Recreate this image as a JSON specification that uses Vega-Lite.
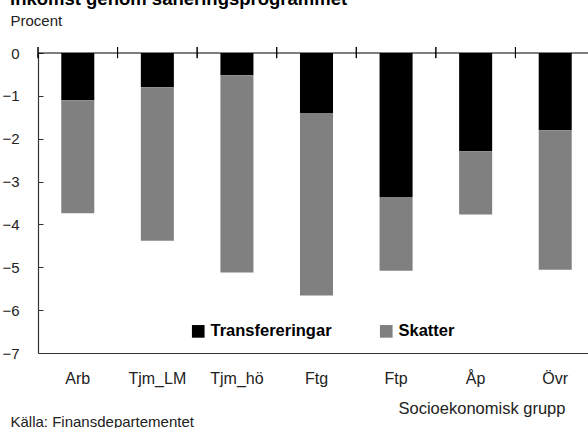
{
  "$schema": "https://vega.github.io/schema/vega-lite/v6.json",
  "width": 557,
  "height": 300,
  "autosize": {"type": "none"},
  "padding": {"left": 38, "top": 53, "right": 0, "bottom": 75},
  "background": "white",
  "config": {"font": "Liberation Sans", "view": {"stroke": null}},
  "title": {
    "text": "inkomst genom saneringsprogrammet",
    "orient": "top",
    "anchor": "start",
    "frame": "group",
    "fontSize": 18.5,
    "fontWeight": "bold",
    "color": "#000000",
    "baseline": "alphabetic",
    "offset": 5,
    "dx": -28,
    "dy": 15
  },
  "data": {
    "values": [
      {"cat": "Arb", "typ": "Transfereringar", "rank": 1, "value": -1.10},
      {"cat": "Arb", "typ": "Skatter", "rank": 2, "value": -2.64},
      {"cat": "Tjm_LM", "typ": "Transfereringar", "rank": 1, "value": -0.80},
      {"cat": "Tjm_LM", "typ": "Skatter", "rank": 2, "value": -3.58},
      {"cat": "Tjm_hö", "typ": "Transfereringar", "rank": 1, "value": -0.52},
      {"cat": "Tjm_hö", "typ": "Skatter", "rank": 2, "value": -4.60},
      {"cat": "Ftg", "typ": "Transfereringar", "rank": 1, "value": -1.40},
      {"cat": "Ftg", "typ": "Skatter", "rank": 2, "value": -4.26},
      {"cat": "Ftp", "typ": "Transfereringar", "rank": 1, "value": -3.36},
      {"cat": "Ftp", "typ": "Skatter", "rank": 2, "value": -1.72},
      {"cat": "Åp", "typ": "Transfereringar", "rank": 1, "value": -2.29},
      {"cat": "Åp", "typ": "Skatter", "rank": 2, "value": -1.48},
      {"cat": "Övr", "typ": "Transfereringar", "rank": 1, "value": -1.80},
      {"cat": "Övr", "typ": "Skatter", "rank": 2, "value": -3.26}
    ]
  },
  "layer": [
    {
      "mark": {"type": "bar"},
      "encoding": {
        "x": {
          "field": "cat",
          "type": "nominal",
          "sort": null,
          "scale": {"paddingInner": 0.585, "paddingOuter": 0.2925},
          "axis": {
            "orient": "bottom",
            "domain": true,
            "domainColor": "#333333",
            "domainWidth": 1.2,
            "ticks": false,
            "labelAngle": 0,
            "labelPadding": 17,
            "labelFontSize": 16,
            "labelColor": "#222222",
            "title": "Socioekonomisk grupp",
            "titleFontSize": 16.5,
            "titleFontWeight": "normal",
            "titleColor": "#222222",
            "titleAnchor": "start",
            "titleAlign": "left",
            "titleBaseline": "middle",
            "titleX": 360,
            "titleY": 55
          }
        },
        "y": {
          "field": "value",
          "type": "quantitative",
          "stack": "zero",
          "scale": {"domain": [-7, 0], "nice": false},
          "axis": {
            "orient": "left",
            "values": [-7, -6, -5, -4, -3, -2, -1, 0],
            "grid": false,
            "domain": true,
            "domainColor": "#333333",
            "domainWidth": 1.2,
            "ticks": true,
            "tickSize": -5,
            "tickColor": "#333333",
            "labelFontSize": 15,
            "labelColor": "#222222",
            "labelPadding": 24,
            "title": "Procent",
            "titleAngle": 0,
            "titleFontSize": 15,
            "titleFontWeight": "normal",
            "titleColor": "#222222",
            "titleAlign": "left",
            "titleBaseline": "middle",
            "titleX": -28,
            "titleY": -33
          }
        },
        "color": {
          "field": "typ",
          "type": "nominal",
          "scale": {"domain": ["Transfereringar", "Skatter"], "range": ["#000000", "#808080"]},
          "legend": {
            "orient": "none",
            "legendX": 152,
            "legendY": 270,
            "direction": "horizontal",
            "title": null,
            "symbolType": "square",
            "symbolSize": 160,
            "symbolStrokeWidth": 0,
            "labelFontSize": 16.5,
            "labelFontWeight": "bold",
            "labelColor": "#000000",
            "labelOffset": 4,
            "columnPadding": 46
          }
        },
        "order": {"field": "rank", "type": "quantitative"}
      }
    },
    {
      "data": {"values": [{}]},
      "mark": {"type": "rule", "color": "#000000", "strokeWidth": 1.2},
      "encoding": {"y": {"datum": 0}}
    },
    {
      "mark": {"type": "rule", "color": "#000000", "strokeWidth": 1},
      "encoding": {
        "x": {
          "field": "cat",
          "type": "nominal",
          "sort": null,
          "bandPosition": -0.7048,
          "axis": {
            "orient": "top",
            "domain": false,
            "labels": false,
            "ticks": false,
            "title": "Källa: Finansdepartementet",
            "titleFontSize": 15,
            "titleFontWeight": "normal",
            "titleColor": "#222222",
            "titleAnchor": "start",
            "titleAlign": "left",
            "titleBaseline": "middle",
            "titleX": -28,
            "titleY": 368
          }
        },
        "y": {"datum": 0.14},
        "y2": {"datum": -0.12}
      }
    }
  ],
  "resolve": {"axis": {"x": "independent"}}
}
